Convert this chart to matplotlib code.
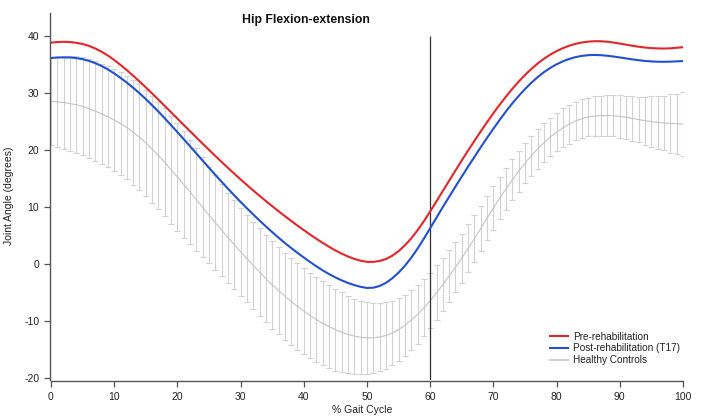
import numpy as np
import matplotlib
matplotlib.use("Agg")
import matplotlib.pyplot as plt

plt.rcParams['font.family'] = ['Liberation Sans', 'DejaVu Sans']
plt.rcParams['axes.unicode_minus'] = False

# % gait cycle (one sample per percent)
gait = np.arange(0, 101)

pre_rehab = [
    38.90, 39.00, 39.05, 39.00, 38.88, 38.66, 38.33, 37.88, 37.31, 36.63,
    35.85, 34.99, 34.07, 33.10, 32.09, 31.05, 29.98, 28.89, 27.79, 26.68,
    25.57, 24.46, 23.36, 22.26, 21.17, 20.09, 19.02, 17.96, 16.92, 15.90,
    14.90, 13.92, 12.96, 12.02, 11.10, 10.20, 9.32, 8.46, 7.62, 6.80,
    6.00, 5.22, 4.47, 3.75, 3.07, 2.44, 1.87, 1.37, 0.95, 0.63,
    0.43, 0.43, 0.58, 0.93, 1.51, 2.31, 3.33, 4.55, 5.97, 7.57,
    9.29, 11.07, 12.87, 14.67, 16.46, 18.23, 19.97, 21.67, 23.33, 24.95,
    26.52, 28.02, 29.45, 30.80, 32.06, 33.22, 34.28, 35.23, 36.07, 36.80,
    37.42, 37.94, 38.36, 38.69, 38.93, 39.08, 39.15, 39.14, 39.06, 38.92,
    38.74, 38.54, 38.35, 38.18, 38.04, 37.94, 37.88, 37.86, 37.90, 38.00,
    38.10,
]

post_rehab = [
    36.20, 36.30, 36.30, 36.30, 36.20, 36.00, 35.70, 35.30, 34.80, 34.20,
    33.50, 32.72, 31.88, 30.98, 30.02, 29.00, 27.92, 26.79, 25.62, 24.42,
    23.20, 21.96, 20.71, 19.45, 18.19, 16.94, 15.70, 14.48, 13.28, 12.10,
    10.95, 9.83, 8.74, 7.68, 6.65, 5.65, 4.68, 3.75, 2.86, 2.01,
    1.20, 0.40, -0.36, -1.07, -1.72, -2.30, -2.82, -3.27, -3.65, -3.95,
    -4.15, -4.10, -3.80, -3.25, -2.45, -1.45, -0.25, 1.15, 2.75, 4.50,
    6.35, 8.20, 10.05, 11.85, 13.65, 15.40, 17.15, 18.85, 20.55, 22.20,
    23.80, 25.35, 26.85, 28.25, 29.55, 30.75, 31.85, 32.85, 33.72, 34.47,
    35.10, 35.62, 36.04, 36.36, 36.58, 36.70, 36.74, 36.70, 36.60, 36.46,
    36.30, 36.13, 35.96, 35.81, 35.69, 35.60, 35.55, 35.54, 35.56, 35.61,
    35.67,
]

healthy_mean = [
    28.6, 28.5, 28.4, 28.2, 28.0, 27.7, 27.3, 26.9, 26.4, 25.9,
    25.3, 24.7, 24.0, 23.2, 22.3, 21.3, 20.2, 19.1, 17.9, 16.6,
    15.3, 14.0, 12.7, 11.35, 10.0, 8.65, 7.3, 6.0, 4.7, 3.45,
    2.2, 1.0, -0.2, -1.35, -2.5, -3.6, -4.6, -5.6, -6.5, -7.4,
    -8.2, -9.0, -9.7, -10.35, -10.95, -11.45, -11.9, -12.3, -12.6, -12.8,
    -12.9, -12.9, -12.75, -12.5, -12.05, -11.45, -10.7, -9.8, -8.8, -7.65,
    -6.35, -5.0, -3.55, -2.05, -0.5, 1.1, 2.8, 4.5, 6.3, 8.1,
    9.9, 11.6, 13.25, 14.85, 16.35, 17.75, 19.05, 20.25, 21.35, 22.35,
    23.2, 23.95, 24.6, 25.15, 25.55, 25.85, 26.0, 26.1, 26.1, 26.05,
    25.95, 25.8, 25.6, 25.4, 25.2, 25.05, 24.9, 24.8, 24.7, 24.65,
    24.6,
]

healthy_sd = [
    7.6, 7.9, 8.1, 8.3, 8.5, 8.6, 8.7, 8.8, 8.8, 8.9,
    8.9, 9.0, 9.1, 9.2, 9.3, 9.3, 9.4, 9.4, 9.5, 9.5,
    9.5, 9.4, 9.2, 9.0, 8.8, 8.5, 8.3, 8.1, 7.9, 7.8,
    7.7, 7.7, 7.7, 7.7, 7.7, 7.7, 7.7, 7.6, 7.6, 7.6,
    7.6, 7.5, 7.5, 7.4, 7.3, 7.2, 7.0, 6.8, 6.6, 6.4,
    6.3, 6.1, 6.0, 5.8, 5.7, 5.6, 5.4, 5.3, 5.1, 5.0,
    4.9, 4.8, 4.6, 4.5, 4.4, 4.3, 4.2, 4.1, 4.0, 3.9,
    3.8, 3.7, 3.7, 3.6, 3.6, 3.5, 3.5, 3.5, 3.4, 3.4,
    3.4, 3.4, 3.4, 3.4, 3.4, 3.4, 3.5, 3.5, 3.6, 3.6,
    3.7, 3.8, 3.9, 4.0, 4.2, 4.4, 4.6, 4.8, 5.1, 5.3,
    5.6,
]

toe_off = 60
xticks = [0, 10, 20, 30, 40, 50, 60, 70, 80, 90, 100]
yticks = [-20, -10, 0, 10, 20, 30, 40]
labels = ["Pre-rehabilitation", "Post-rehabilitation (T17)", "Healthy Controls"]

fig = plt.figure(figsize=(7.08, 4.17), dpi=100)
ax = fig.add_axes([51 / 708, 1 - 380 / 417, (683 - 51) / 708, (380 - 13) / 417])

ax.errorbar(gait, healthy_mean, yerr=healthy_sd, fmt='none',
            ecolor='#d2d2d2', elinewidth=0.8, capsize=2.2, capthick=0.8, zorder=1)
h_line, = ax.plot(gait, healthy_mean, color='#c4c4c4', lw=0.8, zorder=2)
ax.vlines(toe_off, -20.3, yticks[-1], color='#303030', lw=0.9, zorder=3)
pre_line, = ax.plot(gait, pre_rehab, color='#e3262a', lw=1.5, zorder=4)
post_line, = ax.plot(gait, post_rehab, color='#2150d2', lw=1.5, zorder=4)

ax.set_xlim(0, 100)
ax.set_ylim(-20.3, 44.1)
ax.set_xticks(xticks)
ax.set_yticks(yticks)
for s in ['top', 'right']:
    ax.spines[s].set_visible(False)
for s in ['left', 'bottom']:
    ax.spines[s].set_color('#555555')
    ax.spines[s].set_linewidth(1.0)
ax.spines['left'].set_position(('outward', 1))
ax.spines['bottom'].set_position(('outward', 1))
ax.tick_params(direction='out', length=4.5, width=0.9, color='#555555',
               labelsize=7.5, labelcolor='#222222', pad=3)

fig.text(306 / 708, 1 - 20 / 417, "Hip Flexion-extension", ha='center', va='center',
         fontsize=8.8, fontweight='bold', color='#111111')
fig.text(9 / 708, 1 - 196 / 417, "Joint Angle (degrees)", rotation=90,
         ha='center', va='center', fontsize=7.5, color='#222222')
fig.text(362 / 708, 1 - 410 / 417, "% Gait Cycle", ha='center', va='center',
         fontsize=7.5, color='#222222')

leg = ax.legend([pre_line, post_line, h_line], labels, frameon=False,
                loc='upper left', bbox_to_anchor=(550 / 708, 1 - 331.5 / 417),
                bbox_transform=fig.transFigure, fontsize=7.2, borderpad=0,
                borderaxespad=0, handlelength=1.8, handletextpad=0.5,
                labelspacing=0.18)
for t in leg.get_texts():
    t.set_color('#222222')
leg.get_lines()[2].set_linewidth(1.5)
leg.get_lines()[2].set_color('#d0d0d0')

fig.savefig("out.png", dpi=100)
